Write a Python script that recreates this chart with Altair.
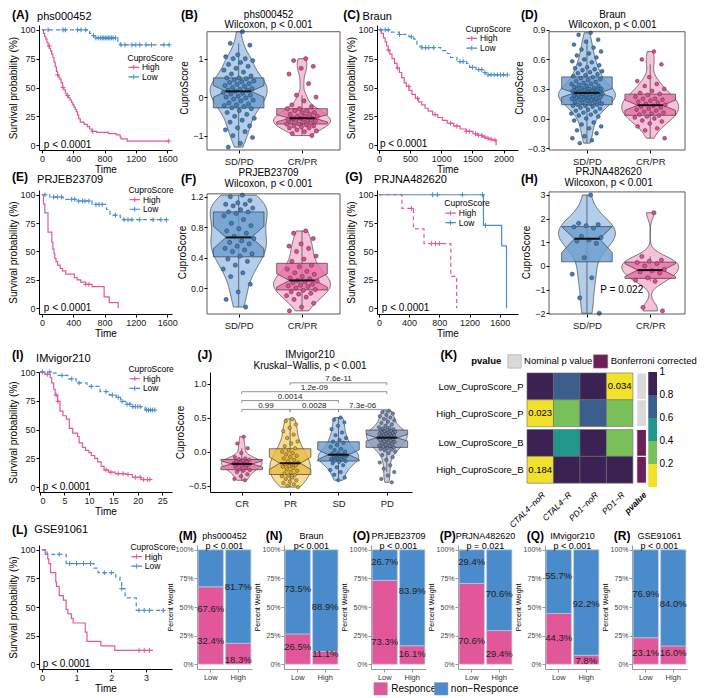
import altair as alt
import numpy as np
import pandas as pd

FONT = "Liberation Sans"
PINK = "#E2579A"
BLUE = "#4A8BCB"
PLUS = "M-1,0L1,0M0,-1L0,1"
ONE = pd.DataFrame({"k": [0]})
S = 0.962  # overall shrink so the figure fits the 709x698 window

# ---------------- Kaplan-Meier data (time, survival %) ----------------
A_hi_t = [0, 20, 35, 50, 65, 80, 95, 110, 125, 140, 155, 170, 185, 200, 215, 230, 245, 263, 280, 300, 320, 340, 360, 380, 395, 410, 425, 440, 455, 470, 490, 540, 580, 610, 640, 700, 850, 950, 1000, 1010, 1090, 1620]
A_hi_s = [100, 97, 94, 92, 89, 86, 84, 82, 79, 76, 72, 68, 64, 61, 59, 57, 54, 50, 48, 45, 43, 41, 39, 37, 35, 33, 31, 29, 26, 23, 20, 18, 16, 14, 12, 11, 10, 9, 7, 5.5, 3.5, 3.5]
A_hi_c = [94, 200, 270, 330, 650, 1620]
A_lo_t = [0, 590, 610, 640, 680, 970, 1000, 1625]
A_lo_s = [100, 99, 97, 95, 93, 89, 87, 87]
A_lo_c = [80, 270, 300, 455, 500, 560, 660, 690, 720, 750, 770, 790, 810, 830, 850, 870, 890, 910, 940, 1010, 1060, 1150, 1200, 1250, 1330, 1400, 1560, 1625]

C_hi_t = [0, 40, 72, 100, 123, 150, 174, 210, 251, 290, 328, 365, 405, 440, 482, 530, 585, 635, 687, 740, 790, 860, 944, 1020, 1097, 1200, 1303, 1400, 1508, 1580, 1662, 1710, 1764, 1820, 1880]
C_hi_s = [100, 97, 93, 89.5, 86, 82.5, 79, 75, 71, 67, 63, 58.5, 54, 51, 47.5, 44, 40.5, 37.5, 35, 32, 29.5, 26.5, 24, 21.5, 19, 16.5, 14, 12, 10, 8.5, 7, 6, 5, 4.4, 0]
C_hi_c = [150, 300, 480, 620, 900, 1150, 1250, 1400, 1450, 1550, 1600, 1650, 1700, 1750, 1800, 1860]
C_lo_t = [0, 200, 328, 482, 559, 610, 687, 995, 1097, 1149, 1251, 1405, 1456, 1559, 1662, 1713, 2060]
C_lo_s = [100, 98, 96, 94, 92, 86, 84.5, 82, 79.5, 76, 72.5, 71, 67.5, 65.5, 63, 61, 61]
C_lo_c = [30, 100, 150, 330, 520, 690, 750, 800, 880, 1300, 1350, 1500, 1600, 1650, 1700, 1750, 1800, 1850, 1900, 1950, 2000, 2060]

E_hi_t = [0, 20, 37, 78, 127, 140, 155, 165, 180, 200, 234, 263, 304, 414, 450, 496, 558, 640, 795, 860, 975]
E_hi_s = [100, 92, 84, 67, 58, 52, 48, 44, 41, 38, 35, 33, 30, 27, 25, 23, 21, 19, 10, 5, 0]
E_hi_c = [560, 600]
E_lo_t = [0, 100, 270, 460, 640, 825, 870, 1000, 1040, 1590]
E_lo_s = [100, 98, 96, 94.5, 91.5, 87, 82, 80, 78, 78]
E_lo_c = [40, 150, 200, 250, 380, 420, 470, 520, 550, 600, 690, 730, 770, 940, 1050, 1100, 1150, 1250, 1420, 1520, 1590]

G_hi_t = [0, 305, 457, 597, 952, 1029]
G_hi_s = [100, 88, 70, 57, 28, 0]
G_hi_c = [432, 698, 749, 800]
G_lo_t = [0, 1384, 1625, 1689]
G_lo_s = [100, 73, 55, 0]
G_lo_c = [711, 775, 1105, 1371, 1410]

I_hi_t = [0, 1.0, 2.1, 2.4, 2.8, 3.1, 3.6, 4.1, 4.7, 5.4, 6.0, 6.7, 7.7, 8.0, 8.7, 9.3, 10.0, 10.5, 11.2, 11.8, 12.5, 13.1, 14.0, 15.4, 17.6, 18.9, 20.7, 22.5]
I_hi_s = [100, 98, 95, 90.5, 85, 80, 74.5, 66, 62, 59, 51, 47, 44, 38.5, 34.5, 32, 30, 27.5, 25, 22, 18, 15, 13, 11.7, 11, 8.6, 6.6, 6.6]
I_hi_c = [1.5, 3.3, 3.7, 13.5, 14.5, 16.0, 17.0, 18.0, 19.5, 20.5, 21.2, 22.0, 22.5]
I_lo_t = [0, 2.1, 3.7, 5.7, 7.4, 9.6, 12.3, 14.2, 15.6, 16.5, 17.5, 18.5, 20.8, 21.5, 23.5]
I_lo_s = [100, 99, 97, 94, 90.5, 87.5, 83, 80, 78, 74.5, 72, 70, 69.5, 67, 67]
I_lo_c = [0.5, 2.0, 4.5, 6.5, 8.0, 10.5, 13.5, 14.8, 16.0, 16.8, 17.8, 18.4, 19.0, 19.5, 20.0, 20.5, 21.8, 22.2, 22.6, 23.0, 23.5]

L_hi_t = [0, 0.1, 0.17, 0.2, 0.25, 0.4, 0.42, 0.5, 0.62, 0.7, 0.75, 0.85, 0.9, 1.25, 1.3, 1.7, 2.1, 3.2]
L_hi_s = [100, 96, 92, 88, 80, 72, 68, 60, 56, 48, 44, 40, 36, 28, 20, 16, 12, 12]
L_hi_c = [2.8, 2.95, 3.1]
L_lo_t = [0, 0.15, 0.7, 1.5, 1.62, 2.13, 2.25, 2.3, 2.4, 2.72, 3.5]
L_lo_s = [100, 96, 88, 84, 80, 76, 72, 66, 58, 47, 47]
L_lo_c = [0.5, 0.8, 1.0, 1.2, 1.4, 1.8, 2.0, 2.3, 2.8, 2.95, 3.1, 3.5]

# ---------------- CuproScore values ----------------
B_sd = [1.7, 1.4, 1.35, 1.1, 1.05, 1.0, 1.0, 0.95, 0.9, 0.85, 0.8, 0.75, 0.7, 0.65, 0.6, 0.55, 0.5, 0.5, 0.48, 0.45, 0.42, 0.4, 0.38, 0.35, 0.33, 0.3, 0.28, 0.25, 0.22, 0.2, 0.18, 0.18, 0.15, 0.12, 0.1, 0.08, 0.05, 0.02, 0.0, -0.02, -0.05, -0.08, -0.1, -0.15, -0.18, -0.2, -0.22, -0.25, -0.28, -0.3, -0.35, -0.4, -0.45, -0.5, -0.55, -0.6, -0.65, -0.75, -0.8, -0.85, -0.9, -1.0, -1.05, -1.2, -1.3]
B_cr = [1.0, 0.95, 0.8, 0.75, 0.6, 0.35, 0.05, 0.0, -0.1, -0.2, -0.25, -0.3, -0.3, -0.35, -0.35, -0.4, -0.4, -0.45, -0.45, -0.5, -0.5, -0.5, -0.55, -0.55, -0.55, -0.58, -0.6, -0.6, -0.62, -0.65, -0.65, -0.68, -0.7, -0.7, -0.72, -0.75, -0.75, -0.78, -0.8, -0.8, -0.85, -0.88, -0.9, -0.95, -1.0]
D_sd = [0.87, 0.85, 0.8, 0.78, 0.75, 0.72, 0.7, 0.68, 0.66, 0.64, 0.62, 0.6, 0.58, 0.57, 0.55, 0.54, 0.52, 0.51, 0.5, 0.49, 0.48, 0.47, 0.46, 0.45, 0.44, 0.43, 0.42, 0.41, 0.4, 0.39, 0.38, 0.37, 0.36, 0.35, 0.35, 0.34, 0.33, 0.33, 0.32, 0.31, 0.31, 0.3, 0.3, 0.3, 0.29, 0.29, 0.28, 0.28, 0.27, 0.27, 0.27, 0.26, 0.26, 0.25, 0.25, 0.25, 0.24, 0.24, 0.23, 0.23, 0.22, 0.22, 0.22, 0.21, 0.21, 0.2, 0.2, 0.2, 0.19, 0.19, 0.18, 0.18, 0.17, 0.17, 0.16, 0.15, 0.15, 0.14, 0.14, 0.13, 0.13, 0.12, 0.11, 0.1, 0.09, 0.08, 0.07, 0.06, 0.05, 0.04, 0.03, 0.02, 0.0, -0.02, -0.04, -0.06, -0.08, -0.1, -0.12, -0.15, -0.18, -0.2, -0.22, -0.25]
D_cr = [0.68, 0.6, 0.55, 0.42, 0.38, 0.35, 0.33, 0.3, 0.28, 0.26, 0.25, 0.24, 0.22, 0.2, 0.2, 0.19, 0.18, 0.17, 0.16, 0.15, 0.14, 0.13, 0.12, 0.11, 0.1, 0.09, 0.08, 0.07, 0.06, 0.05, 0.04, 0.03, 0.02, 0.01, 0.0, -0.02, -0.03, -0.05, -0.08, -0.1, -0.12, -0.2]
F_sd = [1.22, 1.2, 1.15, 1.12, 1.1, 1.1, 1.08, 1.05, 1.03, 1.0, 1.0, 0.98, 0.95, 0.9, 0.85, 0.82, 0.78, 0.75, 0.72, 0.68, 0.65, 0.62, 0.6, 0.58, 0.55, 0.52, 0.5, 0.48, 0.45, 0.42, 0.38, 0.35, 0.3, 0.25, 0.2, 0.15, 0.05, -0.05, -0.15, -0.25]
F_cr = [0.75, 0.72, 0.65, 0.58, 0.55, 0.52, 0.48, 0.42, 0.38, 0.35, 0.3, 0.28, 0.25, 0.22, 0.2, 0.18, 0.15, 0.13, 0.12, 0.1, 0.09, 0.08, 0.07, 0.05, 0.04, 0.03, 0.02, 0.0, -0.02, -0.03, -0.05, -0.07, -0.08, -0.1, -0.12, -0.15, -0.2, -0.25, -0.3]
H_sd = [3.0, 1.8, 1.75, 1.7, 1.65, 1.6, 1.25, 1.2, 1.1, 1.05, 0.95, 0.35, -0.35, -0.5, -1.35, -2.0]
H_cr = [2.25, 0.4, 0.25, 0.2, 0.15, 0.1, 0.0, -0.15, -0.2, -0.25, -0.3, -0.5, -0.6, -0.65, -1.75, -1.9]
J_cr = [0.22, 0.12, 0.05, -0.02, -0.08, -0.1, -0.11, -0.12, -0.13, -0.14, -0.15, -0.16, -0.17, -0.18, -0.19, -0.2, -0.21, -0.22, -0.24, -0.26, -0.27, -0.28, -0.3, -0.33, -0.36, -0.4, -0.42]
J_pr = [0.48, 0.45, 0.4, 0.35, 0.3, 0.25, 0.2, 0.15, 0.12, 0.08, 0.05, 0.02, 0.0, -0.02, -0.04, -0.06, -0.08, -0.1, -0.12, -0.14, -0.16, -0.18, -0.19, -0.2, -0.21, -0.22, -0.24, -0.26, -0.28, -0.3, -0.32, -0.34, -0.35, -0.36, -0.38, -0.4, -0.42, -0.44, -0.46, -0.48, -0.5, -0.52]
J_sd = [0.5, 0.47, 0.43, 0.38, 0.33, 0.28, 0.24, 0.2, 0.17, 0.15, 0.13, 0.1, 0.07, 0.04, 0.02, 0.0, -0.02, -0.03, -0.04, -0.05, -0.06, -0.07, -0.08, -0.09, -0.1, -0.11, -0.12, -0.13, -0.14, -0.15, -0.17, -0.2, -0.23, -0.27, -0.3, -0.34, -0.38, -0.42]
J_pd = [0.6, 0.58, 0.56, 0.54, 0.52, 0.5, 0.48, 0.46, 0.44, 0.42, 0.4, 0.38, 0.36, 0.35, 0.34, 0.33, 0.32, 0.31, 0.3, 0.3, 0.29, 0.28, 0.28, 0.27, 0.26, 0.26, 0.25, 0.24, 0.24, 0.23, 0.22, 0.22, 0.21, 0.2, 0.2, 0.19, 0.18, 0.18, 0.17, 0.16, 0.15, 0.14, 0.13, 0.12, 0.11, 0.1, 0.09, 0.08, 0.07, 0.06, 0.05, 0.04, 0.03, 0.02, 0.0, -0.02, -0.05, -0.08, -0.12, -0.16, -0.2, -0.25, -0.3, -0.35, -0.4, -0.45]

comp_a = [1, 2, 3, 1, 1, 2]
comp_b = [2, 3, 4, 3, 4, 4]
comp_lab = ["0.99", "0.0028", "7.3e-06", "0.0014", "1.2e-09", "7.6e-11"]
comp_level = [0, 0, 0, 1, 2, 3]

# ---------------- heatmap ----------------
heat_cols = ["CTAL4\u2212noR", "CTAL4\u2212R", "PD1\u2212noR", "PD1\u2212R"]
heat_rows = ["Low_CuproScore_P", "High_CuproScore_P", "Low_CuproScore_B", "High_CuproScore_B"]
heat_vals = [[0.9, 0.7, 0.9, 0.034],
             [0.023, 0.35, 0.7, 0.35],
             [0.9, 0.5, 0.9, 0.3],
             [0.184, 0.9, 0.9, 0.9]]
HEAT_EDGES = [0, 0.2, 0.4, 0.6, 0.8, 1.0]
HEAT_COLORS = ["#F1E12B", "#79C05A", "#23968B", "#3B5E8D", "#3B2252"]

# ---------------- stacked bars ----------------
bar_names = ["phs000452", "Braun", "PRJEB23709", "PRJNA482620", "IMvigor210", "GSE91061"]
bar_p = ["p < 0.001", "p< 0.001", "p < 0.001", "p = 0.021", "p < 0.001", "p < 0.001"]
bar_letters = ["(M)", "(N)", "(O)", "(P)", "(Q)", "(R)"]
resp_low = [67.6, 26.5, 73.3, 70.6, 44.3, 23.1]
resp_high = [18.3, 11.1, 16.1, 29.4, 7.8, 16.0]
lab_low_upper = [67.6, 73.5, 26.7, 29.4, 55.7, 76.9]
lab_low_lower = [32.4, 26.5, 73.3, 70.6, 44.3, 23.1]
lab_high_upper = [81.7, 88.9, 83.9, 70.6, 92.2, 84.0]
lab_high_lower = [18.3, 11.1, 16.1, 29.4, 7.8, 16.0]
laby_low_upper = [48, 66, 89, 89, 77.5, 61]
laby_low_lower = [20, 15, 19, 20, 22.5, 10]
laby_high_upper = [67.6, 50, 64, 61, 52.7, 53]
laby_high_lower = [4, 8.5, 8.5, 8.5, 3, 10]


# ================= helpers =================
def s(v):
    return v * S


def surv_at(ts, ss, t):
    i = int(np.searchsorted(np.asarray(ts, float), t, side="right")) - 1
    return ss[max(i, 0)]


def txt(t, x, y, size=9, weight="normal", align="left", style="normal", color="#000", baseline="middle"):
    return alt.Chart(ONE).mark_text(text=t, font=FONT, fontSize=size, fontWeight=weight, align=align,
                                    fontStyle=style, color=color, baseline=baseline).encode(
        x=alt.value(s(x)), y=alt.value(s(y)))


def prect(x1, x2, y1, y2, color):
    return alt.Chart(ONE).mark_rect(color=color, stroke="#999", strokeWidth=0.5).encode(
        x=alt.value(s(x1)), x2=alt.value(s(x2)), y=alt.value(s(y1)), y2=alt.value(s(y2)))


def sp(w):
    return alt.Chart(ONE).mark_point(opacity=0).encode(x=alt.value(0), y=alt.value(0)).properties(
        width=max(1, round(s(w))), height=1)


def marker(top, bottom):
    # invisible extent markers: fix each row's vertical bounds (pixels, relative to the row's plot top)
    m1 = alt.Chart(ONE).mark_rect(opacity=0).encode(x=alt.value(0), x2=alt.value(1), y=alt.value(-top),
                                                    y2=alt.value(-top + 0.5))
    m2 = alt.Chart(ONE).mark_rect(opacity=0).encode(x=alt.value(0), x2=alt.value(1), y=alt.value(bottom - 0.5),
                                                    y2=alt.value(bottom))
    return alt.layer(m1, m2).properties(width=1, height=1)


def hc(*charts):
    return alt.hconcat(*charts, spacing=0, bounds="flush").resolve_scale(color="independent",
                                                                          strokeDash="independent")


def km_panel(hi, lo, xdom, xticks, ydom, W, H, dashes, letter, lxy, title, txy, legxy, pxy):
    hi_t, hi_s, hi_c = hi
    lo_t, lo_s, lo_c = lo
    cur = pd.concat([pd.DataFrame({"t": hi_t, "s": hi_s, "g": "High"}),
                     pd.DataFrame({"t": lo_t, "s": lo_s, "g": "Low"})], ignore_index=True)
    cen = pd.concat([pd.DataFrame({"t": hi_c, "s": [surv_at(hi_t, hi_s, c) for c in hi_c], "g": "High"}),
                     pd.DataFrame({"t": lo_c, "s": [surv_at(lo_t, lo_s, c) for c in lo_c], "g": "Low"})],
                    ignore_index=True)
    xs = alt.Scale(domain=xdom, nice=False, zero=False)
    ys = alt.Scale(domain=ydom, nice=False, zero=False)
    xax = alt.Axis(values=xticks, format="d", title="Time")
    yax = alt.Axis(values=[0, 25, 50, 75, 100], format="d", title="Survival probability (%)")
    X = alt.X("t:Q", scale=xs, axis=xax)
    Y = alt.Y("s:Q", scale=ys, axis=yax)
    col = alt.Color("g:N", scale=alt.Scale(domain=["High", "Low"], range=[PINK, BLUE]), legend=None)
    dsh = alt.StrokeDash("g:N", scale=alt.Scale(domain=["High", "Low"], range=dashes), legend=None)
    line = alt.Chart(cur).mark_line(interpolate="step-after", strokeWidth=1.2).encode(
        x=X, y=Y, color=col, strokeDash=dsh)
    cens = alt.Chart(cen).mark_point(shape=PLUS, size=24, strokeWidth=1, filled=False, opacity=1).encode(
        x=X, y=Y, color=col)
    layers = [line, cens]
    lx, ly = legxy
    layers.append(txt("CuproScore", lx, ly, size=8.5))
    for i, (lab, c, d) in enumerate([("High", PINK, dashes[0]), ("Low", BLUE, dashes[1])]):
        yy = ly + 10 * (i + 1)
        layers.append(alt.Chart(ONE).mark_rule(color=c, strokeDash=d, strokeWidth=1.2).encode(
            x=alt.value(s(lx + 1)), x2=alt.value(s(lx + 12)), y=alt.value(s(yy))))
        layers.append(alt.Chart(ONE).mark_point(shape=PLUS, size=24, strokeWidth=1, filled=False, color=c,
                                                opacity=1).encode(x=alt.value(s(lx + 6.5)), y=alt.value(s(yy))))
        layers.append(txt(lab, lx + 15, yy, size=8.5))
    layers.append(txt("p < 0.0001", pxy[0], pxy[1], size=10))
    layers.append(txt(letter, lxy[0], lxy[1], size=12, weight="bold"))
    layers.append(txt(title, txy[0], txy[1], size=11))
    return alt.layer(*layers).properties(width=round(s(W)), height=round(s(H)))


def stats(vals):
    a = np.asarray(vals, dtype=float)
    q1, med, q3 = np.percentile(a, [25, 50, 75])
    iqr = q3 - q1
    n = len(a)
    notch = 1.58 * iqr / np.sqrt(n)
    sd = a.std(ddof=1)
    bw = 0.9 * min(sd, iqr / 1.34) * n ** -0.2
    return dict(q1=float(q1), med=float(med), q3=float(q3),
                nl=float(max(med - notch, q1)), nu=float(min(med + notch, q3)),
                lo=float(a[a >= q1 - 1.5 * iqr].min()), hi=float(a[a <= q3 + 1.5 * iqr].max()),
                bw=float(bw), mn=float(a.min()), mx=float(a.max()))


def violin_panel(groups, xdom, xlabels, ydom, yticks, yfmt, W, H, letter, lxy, titles, tcx, tys,
                 border_top=None, extra=(), axis_domain=False, vw=0.45, boxw=0.4, jw=0.5, psize=18):
    xs = alt.Scale(domain=xdom, nice=False, zero=False)
    ys = alt.Scale(domain=ydom, nice=False, zero=False)
    expr = " : ".join(f"datum.value == {i + 1} ? '{l}'" for i, l in enumerate(xlabels)) + " : ''"
    xax = alt.Axis(values=list(range(1, len(xlabels) + 1)), labelExpr=expr, title=None,
                   domain=axis_domain, labelFontSize=9.5, labelPadding=3)
    yax = alt.Axis(values=yticks, format=yfmt, title="CuproScore", domain=axis_domain, titlePadding=3)

    def X(f):
        return alt.X(f"{f}:Q", scale=xs, axis=xax)

    def Y(f):
        return alt.Y(f"{f}:Q", scale=ys, axis=yax)

    layers = []
    for (c, vals, pcol, vfill, bfill) in groups:
        st = stats(vals)
        vdf = pd.DataFrame({"v": vals})
        violin = (alt.Chart(vdf)
                  .transform_density("v", as_=["v", "dens"], extent=[st["mn"], st["mx"]], steps=120,
                                     bandwidth=st["bw"])
                  .transform_joinaggregate(md="max(dens)")
                  .transform_calculate(xl=f"{c} - {vw}*datum.dens/datum.md",
                                       xr=f"{c} + {vw}*datum.dens/datum.md")
                  .mark_area(orient="horizontal", fill=vfill, opacity=1, stroke="#262626", strokeWidth=0.6)
                  .encode(y=Y("v"), x=X("xl"), x2="xr"))
        w = boxw
        hw = [w, w, w / 2, w, w]
        bdf = pd.DataFrame({"y": [st["q1"], st["nl"], st["med"], st["nu"], st["q3"]],
                            "xl": [c - h for h in hw], "xr": [c + h for h in hw]})
        box = alt.Chart(bdf).mark_area(orient="horizontal", fill=bfill, fillOpacity=0.8, stroke="#262626",
                                       strokeWidth=0.6).encode(y=Y("y"), x=X("xl"), x2="xr")
        wdf = pd.DataFrame({"c": [c], "lo": [st["lo"]], "hi": [st["hi"]]})
        whisk = alt.Chart(wdf).mark_rule(color="#262626", strokeWidth=0.6).encode(x=X("c"), y=Y("lo"), y2="hi")
        mdf = pd.DataFrame({"a": [c - w / 2], "b": [c + w / 2], "m": [st["med"]]})
        med = alt.Chart(mdf).mark_rule(color="#111", strokeWidth=2).encode(x=X("a"), x2="b", y=Y("m"))
        pts = (alt.Chart(vdf).transform_window(idx="row_number()")
               .transform_calculate(jx=f"{c} + ((datum.idx*0.6180339887) % 1 - 0.5)*{jw}")
               .mark_circle(size=psize, fill=pcol, stroke="#262626", strokeWidth=0.4, opacity=1)
               .encode(x=X("jx"), y=Y("v")))
        layers += [violin, whisk, box, pts, med]
    for f in extra:
        layers.append(f(X, Y))
    if border_top is not None:
        layers.append(alt.Chart(ONE).mark_rect(fillOpacity=0, stroke="#333", strokeWidth=0.8).encode(
            x=alt.value(0), x2=alt.value(round(s(W))), y=alt.value(s(border_top)), y2=alt.value(round(s(H)))))
    layers.append(txt(letter, lxy[0], lxy[1], size=12, weight="bold"))
    for t, ty in zip(titles, tys):
        layers.append(txt(t, tcx, ty, size=10, align="center"))
    return alt.layer(*layers).properties(width=round(s(W)), height=round(s(H)))


LB, LV, LBOX = "#3F7FC0", "#B3CEEA", "#6A9CCD"
PB, PV, PBOX = "#E04B8F", "#F7C1D9", "#E66FA4"
GB, GV, GBOX = "#E0A820", "#F6DC97", "#E8BB45"
SB, SV, SBOX = "#6E82A8", "#C6CEDD", "#8E9DBB"

# ================= panels =================
A = km_panel((A_hi_t, A_hi_s, A_hi_c), (A_lo_t, A_lo_s, A_lo_c), [-37, 1662], [0, 400, 800, 1200, 1600],
             [-4.2, 104.2], 138, 130, [[1, 0], [4, 3]], "(A)", (-28, -10), "phs000452", (-2, -8), (92, 34),
             (5, 125))
C = km_panel((C_hi_t, C_hi_s, C_hi_c), (C_lo_t, C_lo_s, C_lo_c), [-31, 2231], [0, 500, 1000, 1500, 2000],
             [-4.2, 104.2], 147, 130, [[1, 0], [4, 3]], "(C)", (-35, -10), "Braun", (-15, -8), (92, 4),
             (3, 124))
E = km_panel((E_hi_t, E_hi_s, E_hi_c), (E_lo_t, E_lo_s, E_lo_c), [-37, 1662], [0, 400, 800, 1200, 1600],
             [-5.1, 104.2], 138, 129, [[1, 0], [4, 3]], "(E)", (-28, -13), "PRJEB23709", (-2, -10), (93, 0),
             (5, 123))
G = km_panel((G_hi_t, G_hi_s, G_hi_c), (G_lo_t, G_lo_s, G_lo_c), [-25, 1841], [0, 400, 800, 1200, 1600],
             [-5.1, 104.2], 147, 129, [[4, 3], [1, 0]], "(G)", (-33, -13), "PRJNA482620", (-3, -10), (70, 14),
             (5, 123))
I = km_panel((I_hi_t, I_hi_s, I_hi_c), (I_lo_t, I_lo_s, I_lo_c), [-0.2, 27.0], [0, 5, 10, 15, 20, 25],
             [-4.2, 100], 138, 125, [[1, 0], [4, 3]], "(I)", (-28, -18), "IMvigor210", (-3, -14), (93, -3),
             (4, 120))
L = km_panel((L_hi_t, L_hi_s, L_hi_c), (L_lo_t, L_lo_s, L_lo_c), [-0.083, 3.75], [0, 1, 2, 3],
             [-4.2, 104.2], 138, 129, [[1, 0], [4, 3]], "(L)", (-28, -16), "GSE91061", (-5, -16), (95, 2),
             (4, 124))

B = violin_panel([(1, B_sd, LB, LV, LBOX), (2, B_cr, PB, PV, PBOX)], [0.5, 2.6], ["SD/PD", "CR/PR"],
                 [-1.375, 1.875], [-1, 0, 1], "d", 138, 130, "(B)", (-27, -10),
                 ["phs000452", "Wilcoxon, p < 0.001"], 64, [-10, 0], border_top=7)
D = violin_panel([(1, D_sd, LB, LV, LBOX), (2, D_cr, PB, PV, PBOX)], [0.4, 2.55], ["SD/PD", "CR/PR"],
                 [-0.3195, 0.949], [-0.3, 0, 0.3, 0.6, 0.9], ".1f", 141, 130, "(D)", (-29, -10),
                 ["Braun", "Wilcoxon, p < 0.001"], 66, [-10, 0], border_top=7, psize=15)
F = violin_panel([(1, F_sd, LB, LV, LBOX), (2, F_cr, PB, PV, PBOX)], [0.5, 2.6], ["SD/PD", "CR/PR"],
                 [-0.341, 1.288], [0, 0.4, 0.8, 1.2], ".1f", 138, 129, "(F)", (-27, -11),
                 ["PRJEB23709", "Wilcoxon, p < 0.001"], 64, [-18, -6], border_top=4)


def h_note(X, Y):
    return alt.Chart(pd.DataFrame({"x": [1.55], "y": [-1.0], "t": ["P = 0.022"]})).mark_text(
        fontSize=10, font=FONT).encode(x=X("x"), y=Y("y"), text="t:N")


Hp = violin_panel([(1, H_sd, LB, LV, LBOX), (2, H_cr, PB, PV, PBOX)], [0.4, 2.55], ["SD/PD", "CR/PR"],
                  [-2.03, 3.21], [-2, -1, 0, 1, 2, 3], "d", 141, 129, "(H)", (-29, -11),
                  ["PRJNA482620", "Wilcoxon, p < 0.001"], 62, [-19, -7], border_top=2, extra=[h_note])


def brackets(X, Y):
    lev = [0.62 + 0.13 * k for k in comp_level]
    hdf = pd.DataFrame({"a": comp_a, "b": comp_b, "y": lev, "lab": comp_lab})
    tdf = pd.DataFrame({"x": comp_a + comp_b, "y": lev + lev})
    hl = alt.Chart(hdf).mark_rule(color="#7a7a7a", strokeWidth=0.8).encode(x=X("a"), x2="b", y=Y("y"))
    tk = (alt.Chart(tdf).transform_calculate(y2="datum.y - 0.035")
          .mark_rule(color="#7a7a7a", strokeWidth=0.8).encode(x=X("x"), y=Y("y"), y2="y2"))
    tx = (alt.Chart(hdf).transform_calculate(mx="(datum.a + datum.b)/2", ty="datum.y + 0.055")
          .mark_text(fontSize=8, font=FONT, color="#222").encode(x=X("mx"), y=Y("ty"), text="lab:N"))
    return alt.layer(hl, tk, tx)


J = violin_panel([(1, J_cr, PB, PV, PBOX), (2, J_pr, GB, GV, GBOX), (3, J_sd, LB, LV, LBOX),
                  (4, J_pd, SB, SV, SBOX)], [0.344, 4.52], ["CR", "PR", "SD", "PD"],
                 [-0.592, 1.169], [-0.5, 0, 0.5, 1.0], ".1f", 210, 125, "(J)", (-13, -18),
                 ["IMvigor210", "Kruskal\u2212Wallis, p < 0.001"], 104, [-18, -6], border_top=None,
                 extra=[brackets], axis_domain=True, vw=0.42, boxw=0.43, jw=0.35, psize=12)


# ---------------- heatmap K (single view, quantitative cell grid) ----------------
def k_panel(W=135, H=121):
    gap = 3 / 28
    ytop = -0.036
    span = 4.286
    df = pd.DataFrame([{"ri": i, "ci": j, "val": heat_vals[i][j]} for i in range(4) for j in range(4)])
    xs = alt.Scale(domain=[0, 4.91], nice=False, zero=False)
    ys = alt.Scale(domain=[ytop, span], nice=False, zero=False, reverse=True)
    xlabels = heat_cols + ["pvalue"]
    xvals = [0.5, 1.5, 2.5, 3.5, 4.33]
    xexpr = ("datum.value < 1 ? '%s' : datum.value < 2 ? '%s' : datum.value < 3 ? '%s' : "
             "datum.value < 4 ? '%s' : '%s'" % tuple(xlabels))
    yvals = [i + 0.5 + (gap if i >= 2 else 0) for i in range(4)]
    yexpr = ("datum.value < 1 ? '%s' : datum.value < 2 ? '%s' : datum.value < 3 ? '%s' : '%s'"
             % tuple(heat_rows))
    xax = alt.Axis(values=xvals, labelExpr=xexpr, title=None, ticks=False, domain=False, labelAngle=315,
                   labelAlign="right", labelBaseline="top", labelFontStyle="italic", labelFontSize=8.5,
                   labelPadding=2, labelColor="#000", labelOverlap=False, labelFlush=False,
                   labelFontWeight={"condition": {"test": "datum.value > 4", "value": "bold"}, "value": "normal"})
    yax = alt.Axis(values=yvals, labelExpr=yexpr, title=None, ticks=False, domain=False, labelFontSize=9.5,
                   labelPadding=4, labelColor="#000", labelOverlap=False)

    def X(f):
        return alt.X(f"{f}:Q", scale=xs, axis=xax)

    def Y(f):
        return alt.Y(f"{f}:Q", scale=ys, axis=yax)

    colr = alt.Color("val:Q", scale=alt.Scale(type="threshold", domain=HEAT_EDGES[1:-1], range=HEAT_COLORS),
                     legend=None)
    cells = (alt.Chart(df)
             .transform_calculate(x0="datum.ci", x1="datum.ci + 1",
                                  y0=f"datum.ri + (datum.ri >= 2 ? {gap} : 0)", y1="datum.y0 + 1",
                                  xm="datum.ci + 0.5", ym="datum.y0 + 0.5"))
    rect = cells.mark_rect(stroke="#6b6b6b", strokeWidth=0.6).encode(
        x=X("x0"), x2="x1", y=Y("y0"), y2="y1", color=colr)
    tx = cells.transform_filter("datum.val < 0.2").mark_text(fontSize=9.5, font=FONT).encode(
        x=X("xm"), y=Y("ym"), text=alt.Text("val:Q", format=".3f"))
    ann = (alt.Chart(pd.DataFrame({"ri": [0, 1, 2, 3]}))
           .transform_calculate(y0=f"datum.ri + (datum.ri >= 2 ? {gap} : 0)", y1="datum.y0 + 1",
                                a0="4.145", a1="4.51"))
    annP = ann.transform_filter("datum.ri < 2").mark_rect(color="#D9D9D9", stroke="white", strokeWidth=1).encode(
        x=X("a0"), x2="a1", y=Y("y0"), y2="y1")
    annB = ann.transform_filter("datum.ri >= 2").mark_rect(color="#6D1F57", stroke="white", strokeWidth=1).encode(
        x=X("a0"), x2="a1", y=Y("y0"), y2="y1")
    cb = (alt.Chart(pd.DataFrame({"lo": HEAT_EDGES[:-1], "hi": HEAT_EDGES[1:]}))
          .transform_calculate(val="(datum.lo + datum.hi)/2",
                               y0=f"{ytop} + (1 - datum.hi)*{span}", y1=f"{ytop} + (1 - datum.lo)*{span}",
                               c0="4.58", c1="4.91"))
    cbar = cb.mark_rect().encode(x=X("c0"), x2="c1", y=Y("y0"), y2="y1", color=colr)
    cbl = (alt.Chart(pd.DataFrame({"v": HEAT_EDGES[1:]}))
           .transform_calculate(y=f"{ytop} + (1 - datum.v)*{span}", x="5.0",
                                t="datum.v == 1 ? '1' : format(datum.v, '.1f')")
           .mark_text(align="left", fontSize=10, font=FONT).encode(x=X("x"), y=Y("y"), text="t:N"))
    layers = [rect, tx, annP, annB, cbar, cbl,
              txt("(K)", -90, -18, size=12, weight="bold"),
              txt("pvalue", -58, -11, size=9.5, weight="bold"),
              prect(-20, -6, -18, -4, "#D9D9D9"),
              txt("Nominal p value", -3, -11, size=9.5),
              prect(69, 84, -18, -4, "#6D1F57"),
              txt("Bonferroni corrected", 87, -11, size=9.5)]
    return alt.layer(*layers).properties(width=round(s(W)), height=round(s(H)))


K = k_panel()


# ---------------- stacked bars ----------------
def bar_panel(i, W=57, H=129, legend=False):
    rl, rh = resp_low[i], resp_high[i]
    df = pd.DataFrame({"grp": ["Low", "Low", "High", "High"],
                       "resp": ["Responce", "non-Responce", "Responce", "non-Responce"],
                       "pct": [rl, 100 - rl, rh, 100 - rh], "ord": [0, 1, 0, 1]})
    lab = pd.DataFrame({"grp": ["Low", "Low", "High", "High"],
                        "y": [laby_low_upper[i], laby_low_lower[i], laby_high_upper[i], laby_high_lower[i]],
                        "v": [lab_low_upper[i], lab_low_lower[i], lab_high_upper[i], lab_high_lower[i]]})
    xs = alt.Scale(domain=["Low", "High"], paddingInner=0.08, paddingOuter=0.04)
    ys = alt.Scale(domain=[-4.2, 104.2], nice=False, zero=False)
    xax = alt.Axis(title=None, labelAngle=0, labelFontSize=7.5, labelColor="#333", domainColor="#999",
                   tickColor="#999", labelPadding=1)
    yax = alt.Axis(values=[0, 25, 50, 75, 100], labelExpr="datum.value + '%'", title="Percent Weight",
                   labelFontSize=7, titleFontSize=7, labelColor="#444", titlePadding=2, domainColor="#999",
                   tickColor="#999")
    bars = alt.Chart(df).mark_bar(stroke="#B7CDE3", strokeWidth=0.7).encode(
        x=alt.X("grp:N", scale=xs, axis=xax),
        y=alt.Y("pct:Q", scale=ys, axis=yax, stack="zero"),
        color=alt.Color("resp:N", scale=alt.Scale(domain=["Responce", "non-Responce"], range=[PINK, BLUE]),
                        legend=None),
        order=alt.Order("ord:Q"))
    texts = (alt.Chart(lab).transform_calculate(t="format(datum.v, '.1f') + '%'")
             .mark_text(fontSize=9.5, color="#222", font=FONT)
             .encode(x=alt.X("grp:N", scale=xs, axis=xax), y=alt.Y("y:Q", scale=ys, axis=yax), text="t:N"))
    layers = [bars, texts,
              txt(bar_letters[i], -19, -9, size=12, weight="bold"),
              txt(bar_names[i], W / 2, -9, size=9, align="center"),
              txt(bar_p[i], W / 2, 1, size=9, align="center")]
    if legend:
        layers += [prect(3, 17, 143, 156, PINK), txt("Responce", 21, 149.5, size=10),
                   prect(66, 80, 143, 156, BLUE), txt("non\u2212Responce", 83, 149.5, size=10)]
    return alt.layer(*layers).properties(width=round(s(W)), height=round(s(H)))


bars = [bar_panel(i, legend=(i == 2)) for i in range(6)]

# ================= layout =================
VSP = -34   # vertical spacing between row bounds
TT = 28     # top extent marker of rows 2-4


def row_bottom(h_ref, gap_ref):
    return (h_ref + gap_ref) * S - VSP - TT


row1 = hc(A, sp(36), B, sp(38), C, sp(32), D, marker(17, row_bottom(130, 35)))
row2 = hc(E, sp(36), F, sp(38), G, sp(32), Hp, marker(TT, row_bottom(129, 53.4)))
row3 = hc(I, sp(40), J, sp(120), K, marker(TT, row_bottom(125, 48.5)))
r4 = [L, sp(26)]
for i, bch in enumerate(bars):
    r4.append(bch)
    if i < 5:
        r4.append(sp(33))
row4 = hc(*r4, marker(TT, 1))

chart = alt.vconcat(row1, row2, row3, row4, spacing=VSP).resolve_scale(
    color="independent", strokeDash="independent").properties(padding=0)
chart = (chart.configure(font=FONT)
         .configure_view(stroke="transparent", strokeWidth=0)
         .configure_axis(labelFont=FONT, titleFont=FONT, labelFontSize=9, titleFontSize=10,
                         titleFontWeight="normal", labelColor="#1a1a1a", titleColor="#000",
                         domainColor="#000", tickColor="#000", grid=False, tickSize=3, labelPadding=1,
                         titlePadding=1))

chart.save("out.html", embed_options={"renderer": "svg", "actions": False})
